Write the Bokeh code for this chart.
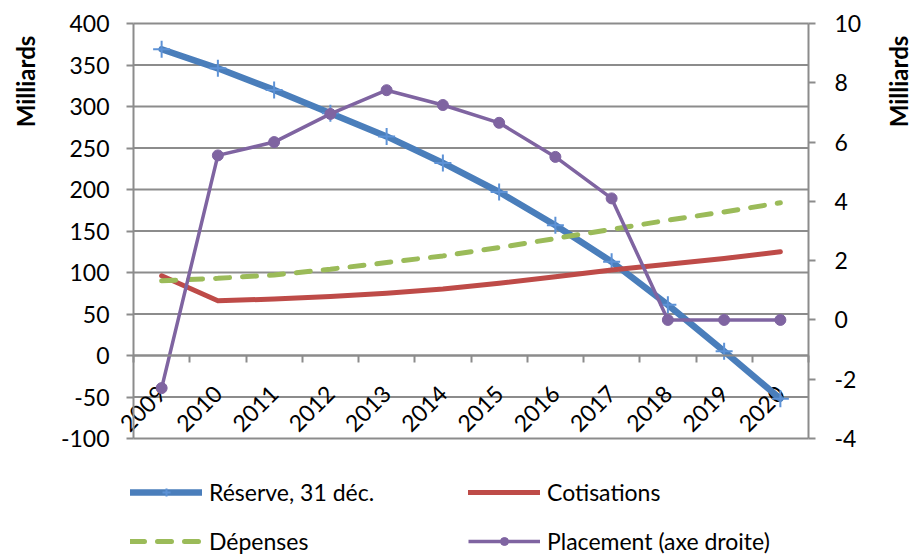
from math import pi

from bokeh.plotting import figure
from bokeh.models import (Range1d, LinearAxis, FixedTicker, ColumnDataSource,
                          Legend, LegendItem, Label)
from bokeh.core.properties import value
from bokeh.embed import file_html
from bokeh.resources import INLINE

# ---- data (Milliards) ----
years = ["2009", "2010", "2011", "2012", "2013", "2014",
         "2015", "2016", "2017", "2018", "2019", "2020"]
reserve = [369, 346, 320, 292, 264, 232, 197, 157, 113, 61, 5, -52]
cotisations = [96, 66, 68, 71, 75, 80, 87, 95, 103, 110, 117, 125]
depenses = [90, 93, 97, 104, 112, 120, 130, 141, 152, 163, 173, 184]
placement = [-2.3, 5.55, 6.0, 6.95, 7.75, 7.25, 6.65, 5.5, 4.1, 0, 0, 0]

left_ticks = [-100, -50, 0, 50, 100, 150, 200, 250, 300, 350, 400]
right_ticks = [-4, -2, 0, 2, 4, 6, 8, 10]

# ---- page geometry (pixels) ----
W, H = 912, 558
PLOT_L, PLOT_R, PLOT_T, PLOT_B = 133, 808, 23, 438
n = len(years)
L_MIN, L_MAX = left_ticks[0], left_ticks[-1]
R_MIN, R_MAX = right_ticks[0], right_ticks[-1]

px_x = (PLOT_R - PLOT_L) / n
px_l = (PLOT_B - PLOT_T) / (L_MAX - L_MIN)
px_r = (PLOT_B - PLOT_T) / (R_MAX - R_MIN)

FONT = "Lato"
FS = "23px"
GRID = "#8c8c8c"
BLUE, RED, GREEN, PURPLE = "#4a7ebb", "#be4b48", "#9bbb59", "#7f64a1"

xs = [i + 0.5 for i in range(n)]
src = ColumnDataSource(dict(x=xs, year=years, reserve=reserve, cotisations=cotisations,
                            depenses=depenses, placement=placement))

# the frame spans the whole canvas; axes are pinned at data locations
p = figure(width=W, height=H, output_backend="svg", toolbar_location=None,
           x_range=Range1d(-PLOT_L / px_x, n + (W - PLOT_R) / px_x),
           y_range=Range1d(L_MIN - (H - PLOT_B) / px_l, L_MAX + PLOT_T / px_l),
           x_axis_type=None, y_axis_type=None, min_border=0)
p.extra_y_ranges = {"right": Range1d(R_MIN - (H - PLOT_B) / px_r, R_MAX + PLOT_T / px_r)}
p.outline_line_color = None
p.background_fill_color = "white"
p.border_fill_color = "white"


def style_axis(ax, standoff):
    ax.axis_line_color = GRID
    ax.axis_line_width = 2
    ax.major_tick_line_color = GRID
    ax.major_tick_line_width = 2
    ax.major_tick_out = 7
    ax.major_tick_in = 0
    ax.minor_tick_line_color = None
    ax.major_label_standoff = standoff
    ax.major_label_text_font = FONT
    ax.major_label_text_font_size = FS
    ax.major_label_text_color = "black"


# horizontal gridlines
p.segment(x0=[0] * len(left_ticks), x1=[n] * len(left_ticks), y0=left_ticks, y1=left_ticks,
          line_color=GRID, line_width=2)

# left axis
la = LinearAxis(ticker=FixedTicker(ticks=left_ticks), fixed_location=0, bounds=(L_MIN, L_MAX))
la.major_label_overrides = {t: str(t) for t in left_ticks}
style_axis(la, 17)
p.add_layout(la, "left")

# right axis
ra = LinearAxis(y_range_name="right", ticker=FixedTicker(ticks=right_ticks),
                fixed_location=n, bounds=(R_MIN, R_MAX))
ra.major_label_overrides = {t: str(t) for t in right_ticks}
style_axis(ra, 19)
p.add_layout(ra, "right")

# category axis crossing at zero
xa = LinearAxis(ticker=FixedTicker(ticks=list(range(n + 1))), fixed_location=0, bounds=(0, n))
style_axis(xa, 0)
xa.major_label_text_color = None
xa.major_label_text_font_size = "1px"
p.add_layout(xa, "below")

# rotated year labels
p.text(x="x", y=-41, text="year", source=src, angle=pi / 4, x_offset=0,
       text_align="right", text_baseline="middle", text_font=value(FONT),
       text_font_size=FS, text_color="black")

# series
r_res = p.line("x", "reserve", source=src, line_color=BLUE, line_width=6.5,
               line_cap="round", line_join="round")
m_res = p.scatter("x", "reserve", source=src, marker="cross", size=17,
                  line_color="#5d92d6", line_width=2)
r_cot = p.line("x", "cotisations", source=src, line_color=RED, line_width=5,
               line_cap="round", line_join="round")
r_dep = p.line("x", "depenses", source=src, line_color=GREEN, line_width=5,
               line_dash="14 13", line_cap="round")
r_pla = p.line("x", "placement", source=src, y_range_name="right", line_color=PURPLE,
               line_width=3.5, line_join="round")
m_pla = p.scatter("x", "placement", source=src, y_range_name="right", marker="circle",
                  size=11, fill_color=PURPLE, line_color=PURPLE)

# legend: two columns by two rows below the chart
entries = [
    ("Réserve, 31 déc.", [r_res, m_res], (130, 52)),
    ("Cotisations", [r_cot], (468, 52)),
    ("Dépenses", [r_dep], (130, 3)),
    ("Placement (axe droite)", [r_pla, m_pla], (468, 3)),
]
for label, rends, loc in entries:
    lg = Legend(items=[LegendItem(label=label, renderers=rends)], location=loc,
                orientation="horizontal", padding=0, margin=0, spacing=0,
                glyph_width=72, glyph_height=20, label_height=20, label_standoff=7,
                label_text_font=FONT, label_text_font_size=FS,
                label_text_color="black", border_line_color=None,
                background_fill_alpha=0)
    p.add_layout(lg, "center")

# axis titles
for xpos in (25, 898):
    p.add_layout(Label(x=xpos, y=H - 81, x_units="screen", y_units="screen",
                       text="Milliards", angle=pi / 2, text_align="center",
                       text_baseline="middle", text_font=FONT, text_font_style="bold",
                       text_font_size="24px", text_color="black"))

open("out.html", "w").write(file_html(p, INLINE))
